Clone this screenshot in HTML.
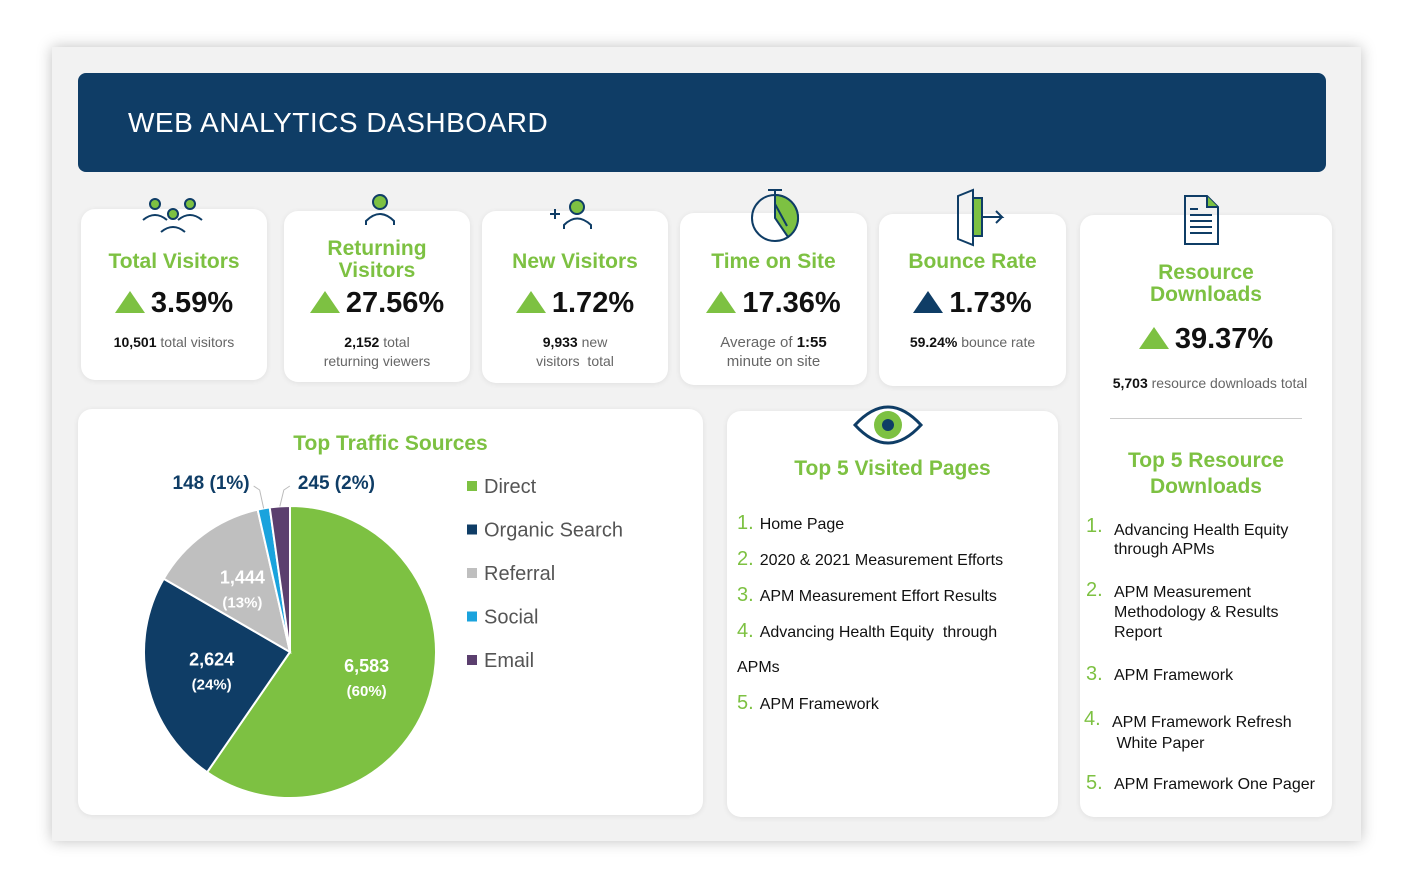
<!DOCTYPE html>
<html><head><meta charset="utf-8"><style>
body{margin:0;width:1414px;height:889px;background:#fff;font-family:"Liberation Sans",sans-serif;position:relative;overflow:hidden}
.abs{position:absolute}
#panel{left:52px;top:47px;width:1309px;height:794px;background:#f2f2f2;box-shadow:0 0 14px rgba(0,0,0,.25)}
#header{left:78px;top:73px;width:1248px;height:99px;background:#0f3d66;border-radius:8px}
#header span{position:absolute;left:50px;top:34px;color:#fff;font-size:28px;letter-spacing:.5px}
.card{position:absolute;background:#fff;border-radius:14px;box-shadow:0 1px 6px rgba(0,0,0,.08);text-align:center}
.t{color:#7dc142;font-weight:bold;font-size:21px;line-height:22px;position:absolute;left:0;right:0}
.v{position:absolute;left:0;right:0;font-size:29px;font-weight:bold;color:#111}
.v i{display:inline-block;width:0;height:0;border-left:15px solid transparent;border-right:15px solid transparent;border-bottom:22px solid #7dc142;margin-right:6px;vertical-align:-1px}
.s{position:absolute;left:0;right:0;font-size:14px;color:#666;line-height:19px}
.s b{color:#111;font-weight:bold}
.list div{position:absolute;font-size:16px;color:#111}
.list em{font-style:normal;color:#7dc142;font-size:20px;margin-right:6px}
#icons{z-index:5}
</style></head><body>
<div class="abs" id="panel"></div>
<div class="abs" id="header"><span>WEB ANALYTICS DASHBOARD</span></div>

<div class="card" style="left:81px;top:209px;width:186px;height:171px">
<div class="t" style="top:42px">Total Visitors</div><div class="v" style="top:78px"><i></i>3.59%</div><div class="s" style="top:124px"><b>10,501</b> total visitors</div></div>
<div class="card" style="left:284px;top:211px;width:186px;height:171px">
<div class="t" style="top:27px">Returning<br>Visitors</div><div class="v" style="top:76px"><i></i>27.56%</div><div class="s" style="top:122px"><b>2,152</b> total<br>returning viewers</div></div>
<div class="card" style="left:482px;top:211px;width:186px;height:172px">
<div class="t" style="top:40px">New Visitors</div><div class="v" style="top:76px"><i></i>1.72%</div><div class="s" style="top:122px"><b>9,933</b> new<br>visitors &nbsp;total</div></div>
<div class="card" style="left:680px;top:213px;width:187px;height:172px">
<div class="t" style="top:38px">Time on Site</div><div class="v" style="top:74px"><i></i>17.36%</div><div class="s" style="top:120px;font-size:15px">Average of <b>1:55</b><br>minute on site</div></div>
<div class="card" style="left:879px;top:214px;width:187px;height:172px">
<div class="t" style="top:37px">Bounce Rate</div><div class="v" style="top:73px"><i style="border-bottom-color:#0f3d66"></i>1.73%</div><div class="s" style="top:119px"><b>59.24%</b> bounce rate</div></div>

<div class="card" style="left:1080px;top:215px;width:252px;height:602px">
<div class="t" style="top:47px">Resource<br>Downloads</div><div class="v" style="top:108px"><i></i>39.37%</div><div class="s" style="top:159px;left:8px"><b>5,703</b> resource downloads total</div>
<div class="abs" style="left:30px;top:203px;width:192px;border-top:1px solid #ccc"></div>
<div class="t" style="top:233px;font-size:21px;line-height:26px">Top 5 Resource<br>Downloads</div>
<div class="list" style="text-align:left">
<div style="left:6px;top:302px;line-height:19px"><em>1.</em></div><div style="left:34px;top:306px;line-height:19px">Advancing Health Equity<br>through APMs</div>
<div style="left:6px;top:364px"><em>2.</em></div><div style="left:34px;top:368px;line-height:20px">APM Measurement<br>Methodology &amp; Results<br>Report</div>
<div style="left:6px;top:448px"><em>3.</em></div><div style="left:34px;top:452px">APM Framework</div>
<div style="left:4px;top:493px"><em>4.</em></div><div style="left:32px;top:497px;line-height:21px">APM Framework Refresh<br>&nbsp;White Paper</div>
<div style="left:6px;top:557px"><em>5.</em></div><div style="left:34px;top:561px">APM Framework One Pager</div>
</div></div>

<div class="card" style="left:727px;top:411px;width:331px;height:406px">
<svg class="abs" style="left:125px;top:-8px" width="72" height="44"><path d="M3 22q33-36 66 0q-33 36-66 0z" fill="#fff" stroke="#0f3d66" stroke-width="3"/><circle cx="36" cy="22" r="14" fill="#7dc142"/><circle cx="36" cy="22" r="6" fill="#0f3d66"/></svg>
<div class="t" style="top:47px">Top 5 Visited Pages</div>
<div class="list" style="text-align:left">
<div style="left:10px;top:101px"><em>1.</em>Home Page</div>
<div style="left:10px;top:137px"><em>2.</em>2020 &amp; 2021 Measurement Efforts</div>
<div style="left:10px;top:173px"><em>3.</em>APM Measurement Effort Results</div>
<div style="left:10px;top:209px"><em>4.</em>Advancing Health Equity &nbsp;through</div>
<div style="left:10px;top:248px">APMs</div>
<div style="left:10px;top:281px"><em>5.</em>APM Framework</div>
</div></div>

<svg id="icons" class="abs" style="left:0;top:0" width="1414" height="260">
<g fill="none" stroke="#0f3d66" stroke-width="2">
<circle cx="155" cy="204" r="5" fill="#7dc142"/><circle cx="190" cy="204" r="5" fill="#7dc142"/><circle cx="173" cy="214" r="5" fill="#7dc142"/>
<path d="M143 220q12-10 24 0M178 220q12-10 24 0M161 232q12-10 24 0"/>
<circle cx="380" cy="202" r="7" fill="#7dc142"/><path d="M366 225v-4q14-14 28 0v4"/>
<path d="M550 214h10M555 209v10"/><circle cx="577" cy="207" r="7" fill="#7dc142"/><path d="M564 229v-4q13-13 27 0v4"/>
<circle cx="775" cy="218" r="23"/><path d="M775 195a23 23 0 0 1 13 42L775 218z" fill="#7dc142"/><path d="M775 218v-14l12 22M768 190h14M775 190v5"/>
<path d="M958 196l15-6v55l-15-6z"/><rect x="973" y="198" width="9" height="38" fill="#7dc142"/><path d="M982 217h20l-6-6m6 6l-6 6"/>
<path d="M1185 196h22l11 11v37h-33z"/><path d="M1207 196v11h11" fill="#7dc142"/><path d="M1190 215h22M1190 221h22M1190 227h22M1190 233h22M1190 209h8"/>
</g></svg>

<div class="card" style="left:78px;top:409px;width:625px;height:406px">
<div class="t" style="top:24px">Top Traffic Sources</div></div>
<svg id="pie" class="abs" style="left:78px;top:409px" width="625" height="406"></svg>
<script>
const categories=["Direct","Organic Search","Referral","Social","Email"];
const values=[6583,2624,1444,148,245];
const pctLabels=["(60%)","(24%)","(13%)","(1%)","(2%)"];
const colors=["#7dc142","#0f3d66","#bfbfbf","#1aa3dd","#5b3f6e"];
const svg=document.getElementById('pie');const NS="http://www.w3.org/2000/svg";
const cx=212,cy=243,r=146;const total=values.reduce((a,b)=>a+b,0);
function pt(a,rr){return [cx+rr*Math.sin(a),cy-rr*Math.cos(a)];}
function mk(t,attrs){const e=document.createElementNS(NS,t);for(const k in attrs)e.setAttribute(k,attrs[k]);svg.appendChild(e);return e;}
let a0=0,small=0;
values.forEach((v,i)=>{const a1=a0+v/total*2*Math.PI;const p0=pt(a0,r),p1=pt(a1,r);
const p=mk('path',{d:`M${cx} ${cy}L${p0[0]} ${p0[1]}A${r} ${r} 0 ${a1-a0>Math.PI?1:0} 1 ${p1[0]} ${p1[1]}Z`,fill:colors[i],stroke:'#fff','stroke-width':2});


const m=(a0+a1)/2;const fmt=v.toLocaleString('en-US');
if(v/total>0.05){const q=pt(m,r*0.55);
const t=mk('text',{x:q[0],y:q[1]-4,'text-anchor':'middle','font-size':18,'font-weight':'bold',fill:'#fff'});t.textContent=fmt;


const t2=mk('text',{x:q[0],y:q[1]+20,'text-anchor':'middle','font-size':15,'font-weight':'bold',fill:'#fff'});t2.textContent=pctLabels[i];

}
else{const e=pt(m,r);const left=(small===0);small++;
const ox=e[0]+(left?-4:4),oy=cy-r-16;
mk('polyline',{points:`${e[0]},${e[1]} ${ox},${oy} ${ox+(left?-6:6)},${oy-4}`,fill:'none',stroke:'#bbb'});
const t=mk('text',{x:ox+(left?-10:14),y:oy-1,'text-anchor':left?'end':'start','font-size':19,'font-weight':'bold',fill:'#0f3d66'});t.textContent=fmt+' '+pctLabels[i];

}
a0=a1;});
categories.forEach((c,i)=>{const y=78+i*43.5;
const r0=mk('rect',{x:389,y:y-6,width:10,height:10,fill:colors[i]});


const t=mk('text',{x:406,y:y+6,'font-size':20,fill:'#555'});t.textContent=c;

});
</script>
</body></html>
